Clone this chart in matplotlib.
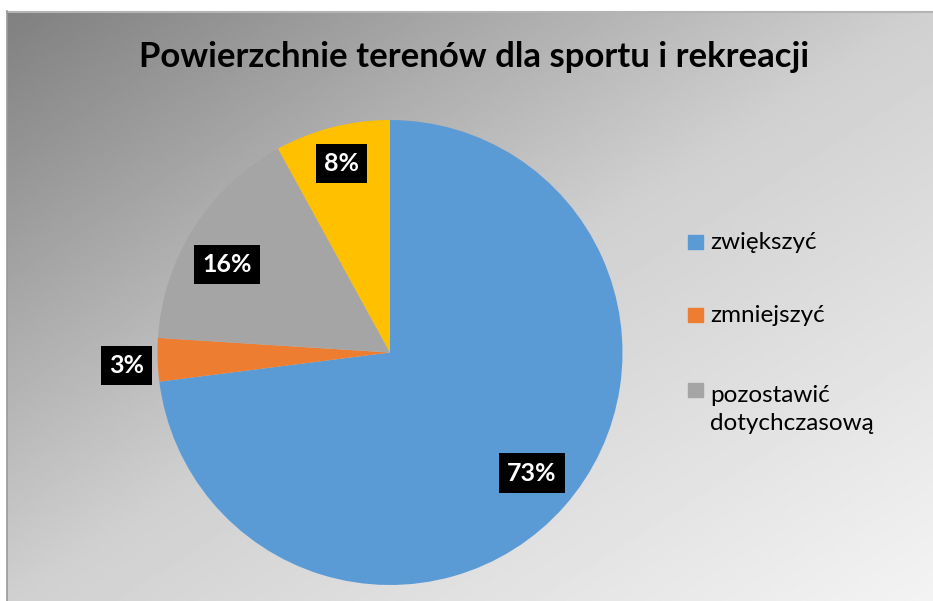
import matplotlib.pyplot as plt
import numpy as np

plt.rcParams['font.family'] = ['Lato', 'DejaVu Sans']

# data
categories = ['zwiększyć', 'zmniejszyć', 'pozostawić\ndotychczasową', 'bez zdania']
shares = [73, 3, 16, 8]
colors = ['#5B9BD5', '#ED7D31', '#A5A5A5', '#FFC000']
legend_count = 3  # only three entries are visible in the legend

W, H = 933, 601
fig = plt.figure(figsize=(W / 100, H / 100), dpi=100)

# diagonal grey gradient background of the chart area
bg = fig.add_axes([7 / W, 0, 1 - 7 / W, 1 - 11 / H])
gx, gy = np.meshgrid(np.linspace(0, 1, 400), np.linspace(0, 1, 300))
t = (gx + gy) / 2
g = np.interp(t, [0, 0.5, 1], [128 / 255, 208 / 255, 243 / 255])
bg.imshow(g, cmap='gray', vmin=0, vmax=1, aspect='auto', extent=[0, 1, 1, 0])
bg.set_axis_off()
fig.add_artist(plt.Line2D([7 / W, 1], [1 - 11.5 / H, 1 - 11.5 / H], color='#b4b4b4', lw=1.5))
fig.add_artist(plt.Line2D([7.5 / W, 7.5 / W], [0, 1 - 11 / H], color='#9a9a9a', lw=1.2))

# pie: center (390, 352.5) px, radius 232.5 px
cx, cy, r = 390, 352.5, 232.5
ax = fig.add_axes([(cx - r) / W, (H - cy - r) / H, 2 * r / W, 2 * r / H])
wedges, _ = ax.pie(shares, colors=colors, startangle=90, counterclock=False,
                   wedgeprops=dict(linewidth=0))
ax.set_xlim(-1, 1)
ax.set_ylim(-1, 1)

total = sum(shares)
# label placement: distance from centre (in radii) and angle nudge (degrees)
label_dist = [0.80, 1.135, 0.795, 0.84]
label_nudge = [1, 1, 4, 0]
for w, v, d, n in zip(wedges, shares, label_dist, label_nudge):
    ang = np.deg2rad((w.theta1 + w.theta2) / 2 + n)
    ax.text(d * np.cos(ang), d * np.sin(ang), f'{v / total * 100:.0f}%',
            ha='center', va='center', color='white', fontsize=18, fontweight='bold',
            bbox=dict(boxstyle='square,pad=0.33', fc='black', ec='none'))

fig.text(474 / W, 1 - 57 / H, 'Powierzchnie terenów dla sportu i rekreacji',
         ha='center', va='center', fontsize=25, fontweight='bold', color='black')

# legend drawn by hand so the wrapped label lines up like the original
leg_y = [249, 322, 397]
line_gap = 32.5
for lab, col, yb in zip(categories[:legend_count], colors, leg_y):
    fig.add_artist(plt.Rectangle((688 / W, (H - yb) / H), 15 / W, 14 / H,
                                 color=col, transform=fig.transFigure))
    last = yb + line_gap * lab.count('\n')
    fig.text(710 / W, (H - last) / H, lab, ha='left', va='baseline',
             fontsize=17.5, color='black', linespacing=1.38)

fig.savefig('out.png', dpi=100)
